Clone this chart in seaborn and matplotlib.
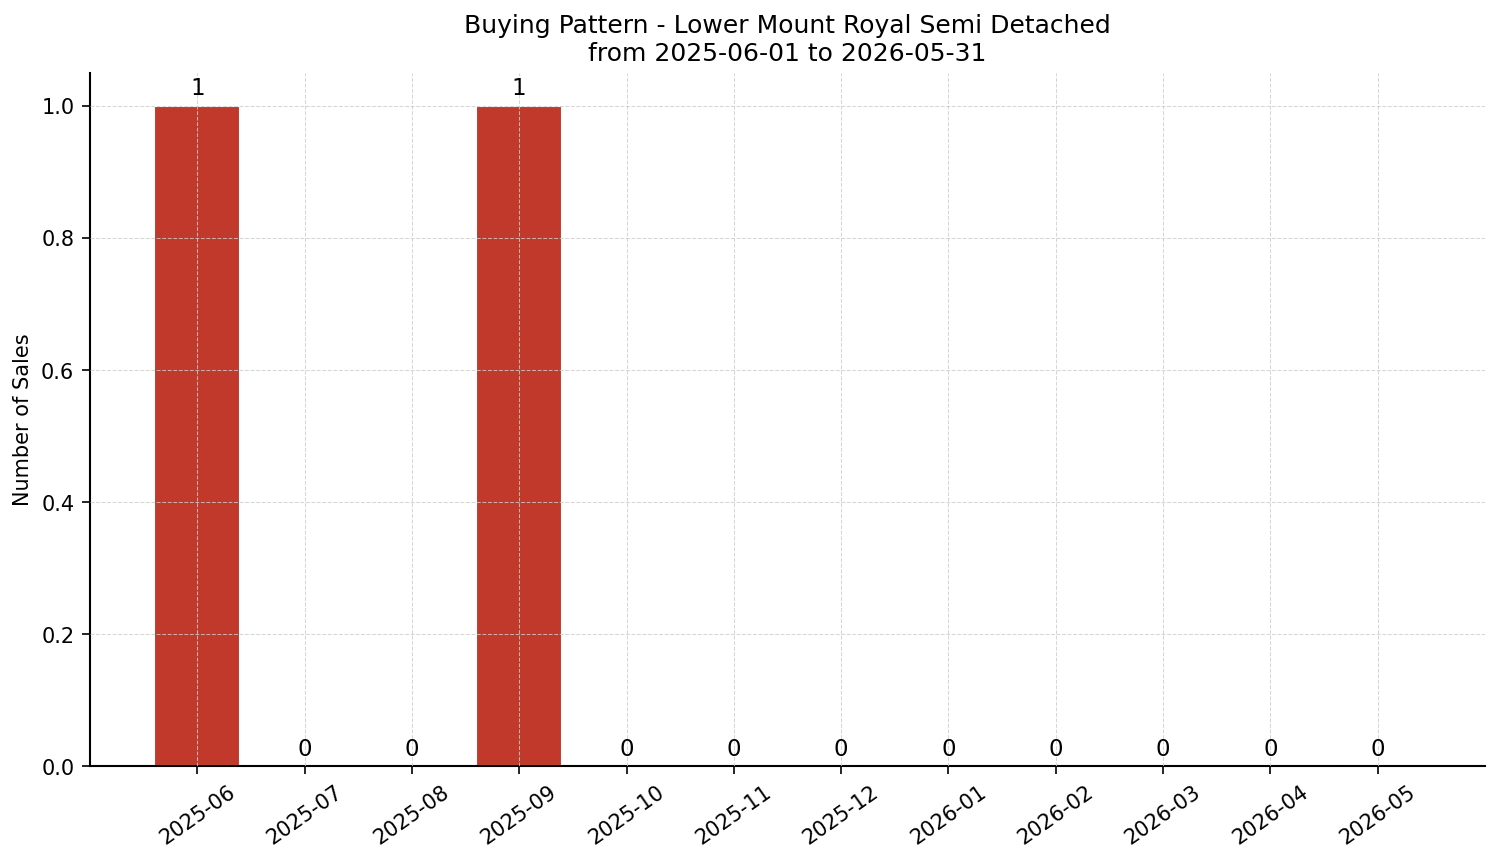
import matplotlib
matplotlib.use('Agg')
import matplotlib.pyplot as plt
import seaborn as sns
import pandas as pd

# data
months = ['2025-06', '2025-07', '2025-08', '2025-09', '2025-10', '2025-11',
          '2025-12', '2026-01', '2026-02', '2026-03', '2026-04', '2026-05']
sales = [1, 0, 0, 1, 0, 0, 0, 0, 0, 0, 0, 0]
title = 'Buying Pattern - Lower Mount Royal Semi Detached\nfrom 2025-06-01 to 2026-05-31'

df = pd.DataFrame({'month': months, 'sales': sales})

sns.set_style('white')
plt.rcParams['font.family'] = ['DejaVu Sans']
plt.rcParams['text.color'] = 'black'
plt.rcParams['axes.labelcolor'] = 'black'
plt.rcParams['xtick.color'] = 'black'
plt.rcParams['ytick.color'] = 'black'

fig, ax = plt.subplots(figsize=(10.0, 5.75), dpi=150)
sns.barplot(data=df, x='month', y='sales', color='#c0392b', saturation=1,
            width=0.8, ax=ax)

ax.bar_label(ax.containers[0], fmt='%d', padding=3, fontsize=11, color='black')

ax.set_xlim(-1, 12)
ax.set_ylim(0, 1.05)
ax.set_title(title, fontsize=12, color='black')
ax.set_xlabel('')
ax.set_ylabel('Number of Sales', fontsize=10)
ax.tick_params(axis='both', labelsize=10, length=4, color='black', bottom=True, left=True)
plt.setp(ax.get_xticklabels(), rotation=35, ha='center')

ax.grid(True, linestyle='--', linewidth=0.5, color='#cccccc', alpha=0.8)
ax.set_axisbelow(False)
for line in ax.get_xgridlines() + ax.get_ygridlines():
    line.set_zorder(3)

sns.despine(ax=ax)
for s in ['left', 'bottom']:
    ax.spines[s].set_color('black')
    ax.spines[s].set_linewidth(1.0)

fig.subplots_adjust(left=0.06, right=0.990, top=0.915, bottom=0.111)
plt.savefig('out.png', dpi=150)
